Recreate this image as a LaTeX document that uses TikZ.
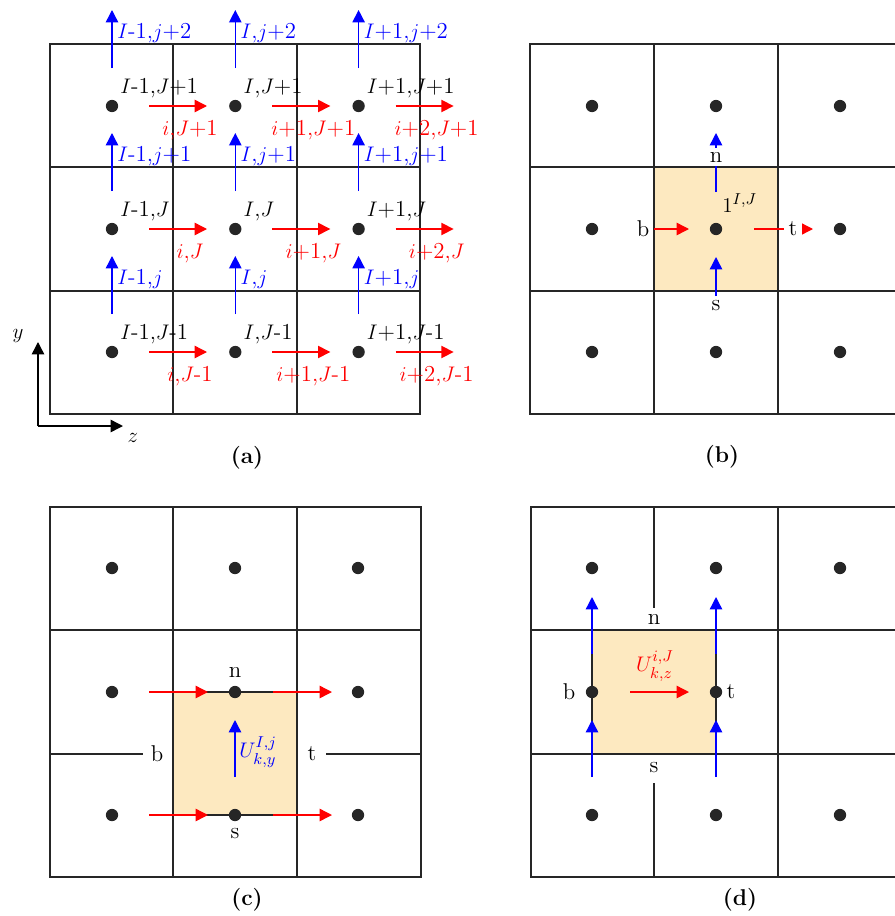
\documentclass[tikz,border=0pt]{standalone}
\usepackage{tikz}
\usetikzlibrary{arrows.meta,positioning}
\definecolor{cellfill}{RGB}{253,233,192}
\definecolor{fluxred}{RGB}{255,0,0}
\definecolor{fluxblue}{RGB}{0,0,255}

\begin{document}
\begin{tikzpicture}[x=0.02cm, y=-0.02cm,
  gridline/.style={line width=0.85pt, black!85},
  redflux/.style={fluxred, line width=0.8pt, -{Triangle[length=7pt,width=7pt]}},
  blueflux/.style={fluxblue, line width=0.8pt, -{Triangle[length=7pt,width=7pt]}},
  axis/.style={line width=0.85pt, -{Triangle[length=7pt,width=7pt]}},
  pt/.style={circle, fill=black!85, inner sep=0pt, minimum size=7pt},
  lbl/.style={inner sep=0pt, font=\fontsize{13}{15}\selectfont},
  face/.style={fill=white, inner sep=2.5pt, font=\fontsize{13}{15}\selectfont},
  tag/.style={font=\bfseries\fontsize{13}{15}\selectfont}]
\useasboundingbox (0,0) rectangle (894,916);

% (a)
\draw[gridline] (50,44) rectangle (420,414) (173,44) -- (173,414) (297,44) -- (297,414)
  (50,167) -- (420,167) (50,291) -- (420,291);
\foreach \c/\cI/\ci in {0/{$I$-1}/{$i$},1/{$I$}/{$i$+1},2/{$I$+1}/{$i$+2}}
  \foreach \r/\cJ/\cj in {0/{$J$+1}/{$j$+2},1/{$J$}/{$j$+1},2/{$J$-1}/{$j$}}{
    \pgfmathsetmacro\x{112+123.3*\c}
    \pgfmathsetmacro\y{106+123*\r}
    \node[pt] (a-\c-\r) at (\x,\y) {};
    \node[lbl, anchor=base west] (ac-\c-\r) at (\x+8,\y-13) {\cI,\cJ};
    \draw[redflux] (\x+37,\y) -- (\x+95,\y);
    \node[lbl, anchor=base, text=fluxred] (az-\c-\r) at (\x+78,\y+29) {\ci,\cJ};
    \draw[blueflux] (\x,\y-38) -- (\x,\y-96);
    \node[lbl, anchor=base west, text=fluxblue] (ay-\c-\r) at (\x+5,\y-68) {\cI,\cj};
  }
\coordinate (orig) at (38,426);
\coordinate (yend) at (38,342);
\coordinate (zend) at (123,426);
\draw[axis] (orig) -- (yend);
\draw[axis] (orig) -- (zend);
\node[lbl] (ylab) at (18,336) {$y$};
\node[lbl] (zlab) at (133,438) {$z$};
\node[tag] (taga) at (247,458) {(a)};

% (b)
\fill[cellfill] (654,167) rectangle (778,291);
\draw[gridline] (530,44) rectangle (902,414) (654,44) -- (654,414) (778,44) -- (778,414)
  (530,167) -- (902,167) (530,291) -- (902,291);
\foreach \x in {592,716,840} \foreach \y in {106,229,352} \node[pt] (b-\x-\y) at (\x,\y) {};
\draw[redflux] (654,229) -- (689,229);
\draw[redflux] (754,229) -- (813,229);
\draw[blueflux] (716,192) -- (716,133);
\draw[blueflux] (716,296) -- (716,257);
\node[lbl] (bb) at (643,229) {b};
\node[face] (bt) at (793,229) {t};
\node[face] (bn) at (716,157) {n};
\node[lbl] (bs) at (716,306) {s};
\node[lbl, anchor=base west] (bone) at (722,212) {$1^{I,J}$};
\node[tag] (tagb) at (722,457) {(b)};

% (c)
\fill[cellfill] (173,692) rectangle (297,815);
\draw[gridline] (50,507) rectangle (421,877) (173,507) -- (173,877) (297,507) -- (297,877)
  (50,630) -- (421,630) (50,754) -- (143,754) (326,754) -- (421,754)
  (173,692) -- (297,692) (173,815) -- (297,815);
\draw[redflux] (149,692) -- (208,692);
\draw[redflux] (273,692) -- (332,692);
\draw[redflux] (149,815) -- (208,815);
\draw[redflux] (273,815) -- (332,815);
\foreach \x in {112,235,358} \foreach \y in {568,692,815} \node[pt] (c-\x-\y) at (\x,\y) {};
\draw[blueflux] (235,777) -- (235,720);
\node[lbl] (cn) at (235,672) {n};
\node[lbl] (cs) at (235,834) {s};
\node[lbl] (cb) at (157,754) {b};
\node[lbl] (ct) at (312,754) {t};
\node[lbl, anchor=west, text=fluxblue] (cu) at (239,752) {$U^{I,j}_{k,y}$};
\node[tag] (tagc) at (247,900) {(c)};

% (d)
\fill[cellfill] (592,630) rectangle (716,754);
\draw[gridline] (531,507) rectangle (902,877) (778,507) -- (778,877)
  (531,630) -- (902,630) (531,754) -- (902,754)
  (654,507) -- (654,608) (654,783) -- (654,877)
  (592,630) -- (592,754) (716,630) -- (716,754);
\foreach \x in {592,716} {
  \draw[blueflux] (\x,777) -- (\x,720);
  \draw[blueflux] (\x,654) -- (\x,597);
}
\foreach \x/\y in {592/568,716/568,840/568,592/692,716/692,592/815,716/815,840/815}
  \node[pt] (d-\x-\y) at (\x,\y) {};
\draw[redflux] (630,692) -- (689,692);
\node[lbl] (dn) at (654,619) {n};
\node[lbl] (ds) at (654,768) {s};
\node[lbl] (db) at (569,692) {b};
\node[lbl] (dt) at (731,692) {t};
\node[lbl, text=fluxred] (du) at (655,666) {$U^{i,J}_{k,z}$};
\node[tag] (tagd) at (740,900) {(d)};
\end{tikzpicture}
\end{document}
